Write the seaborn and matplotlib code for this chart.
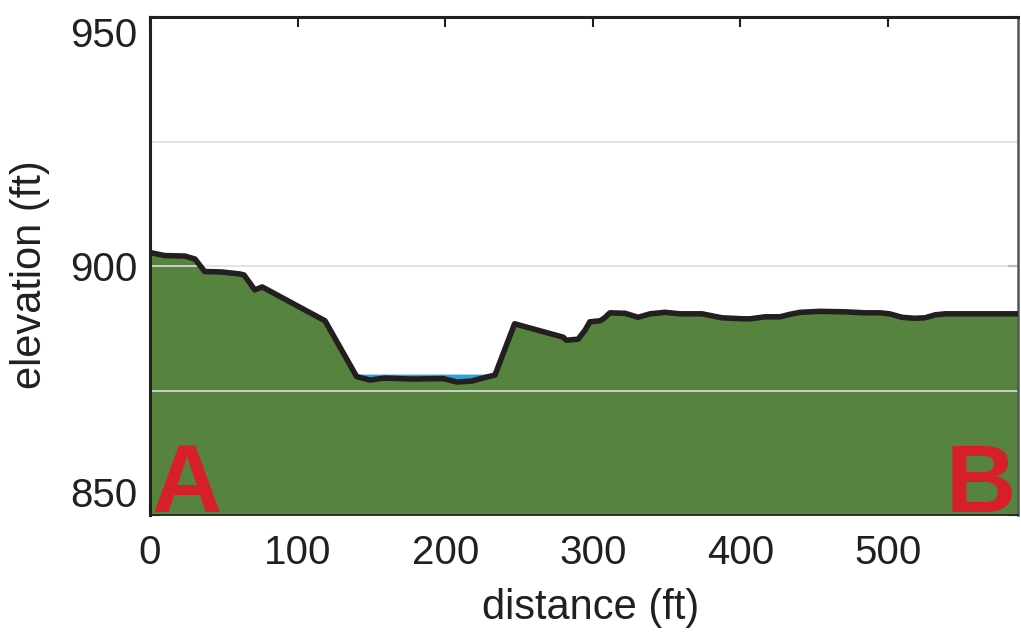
import numpy as np
import pandas as pd
import matplotlib
matplotlib.use('Agg')
import matplotlib.pyplot as plt
import seaborn as sns

# ground profile
distance = [0, 10, 23.7, 30.5, 37, 48.8, 61, 63.7, 71, 76, 118.6, 140, 149, 159, 177.5,
            198.5, 208, 218, 228, 233.7, 247, 280, 282, 290, 294.7, 298, 305, 308,
            311.6, 322, 330.6, 338.8, 349, 359, 374, 387.5, 401.8, 406.5, 416.7,
            426.8, 433.6, 440.4, 454, 470.9, 484.4, 494.6, 501, 509.5, 518, 525,
            532, 538.6, 548.8, 576, 588]
elevation = [902.7, 902.1, 902.0, 901.4, 898.9, 898.8, 898.4, 898.2, 895.2, 895.8, 889.0,
             877.8, 877.1, 877.5, 877.3, 877.4, 876.7, 876.9, 877.7, 878.1, 888.4, 885.7,
             885.1, 885.3, 887.1, 888.8, 889.0, 889.6, 890.6, 890.5, 889.7, 890.4, 890.7,
             890.4, 890.4, 889.6, 889.4, 889.4, 889.8, 889.8, 890.3, 890.7, 890.9, 890.8,
             890.6, 890.6, 890.4, 889.7, 889.5, 889.6, 890.2, 890.4, 890.4, 890.4, 890.4]
water_level = 878.3
water_span = [142, 234]
x_ticks = [0, 100, 200, 300, 400, 500]
y_ticks = [850, 900, 950]
grid_levels = [875, 900, 925]

df = pd.DataFrame({'distance': distance, 'elevation': elevation})

sns.set_style('ticks')
plt.rcParams['font.family'] = ['Liberation Sans', 'DejaVu Sans']

fig = plt.figure(figsize=(10.21, 6.33), dpi=100)
ax = fig.add_axes([0.1469, 0.1864, 0.8501, 0.7867])
ax.set_axisbelow(True)

green = '#56843f'
ax.fill_between(df['distance'], 850, df['elevation'], color=green, lw=0, zorder=1)

xs = np.array(df['distance'])
ys = np.array(df['elevation'])
wmask = (xs >= water_span[0] - 2) & (xs <= water_span[1])
ax.fill_between(xs, ys, water_level, where=wmask & (ys < water_level + 0.1),
                interpolate=True, color='#2aa5d9', lw=0, zorder=1.5)

for g in grid_levels:
    ax.axhline(g, color='#dedede', lw=1.2, zorder=2)

sns.lineplot(data=df, x='distance', y='elevation', ax=ax, color='#231f20',
             lw=4, zorder=3, solid_joinstyle='round')

ax.set_xlim(0, 588)
ax.set_ylim(850, 950)
ax.set_xticks(x_ticks)
ax.set_yticks(y_ticks)
ax.tick_params(direction='in', length=7, width=1.5, labelsize=29, color='#231f20',
               labelcolor='#231f20', top=True, right=True)
ax.tick_params(axis='x', pad=14)
ax.tick_params(axis='y', pad=9)
ylabs = ax.get_yticklabels()
ylabs[0].set_va('bottom')
ylabs[-1].set_va('top')
for side in ['left', 'top', 'right', 'bottom']:
    ax.spines[side].set_visible(True)
    ax.spines[side].set_color('#231f20')
ax.spines['top'].set_linewidth(2.2)
ax.spines['left'].set_linewidth(2.2)
ax.spines['right'].set_linewidth(1.8)
ax.spines['right'].set_color('#555555')
ax.spines['bottom'].set_linewidth(1.2)

ax.set_xlabel('distance (ft)', fontsize=30, color='#231f20', va='center')
ax.set_ylabel('elevation (ft)', fontsize=30, color='#231f20', va='center')
ax.xaxis.set_label_coords(0.508, -0.187)
ax.yaxis.set_label_coords(-0.138, 0.482)

ax.text(1, 850.6, 'A', fontsize=70, fontweight='bold',
        color='#d71f27', ha='left', va='baseline', zorder=4)
ax.text(586.5, 850.6, 'B', fontsize=70, fontweight='bold',
        color='#d71f27', ha='right', va='baseline', zorder=4)

fig.savefig('out.png', dpi=100)
